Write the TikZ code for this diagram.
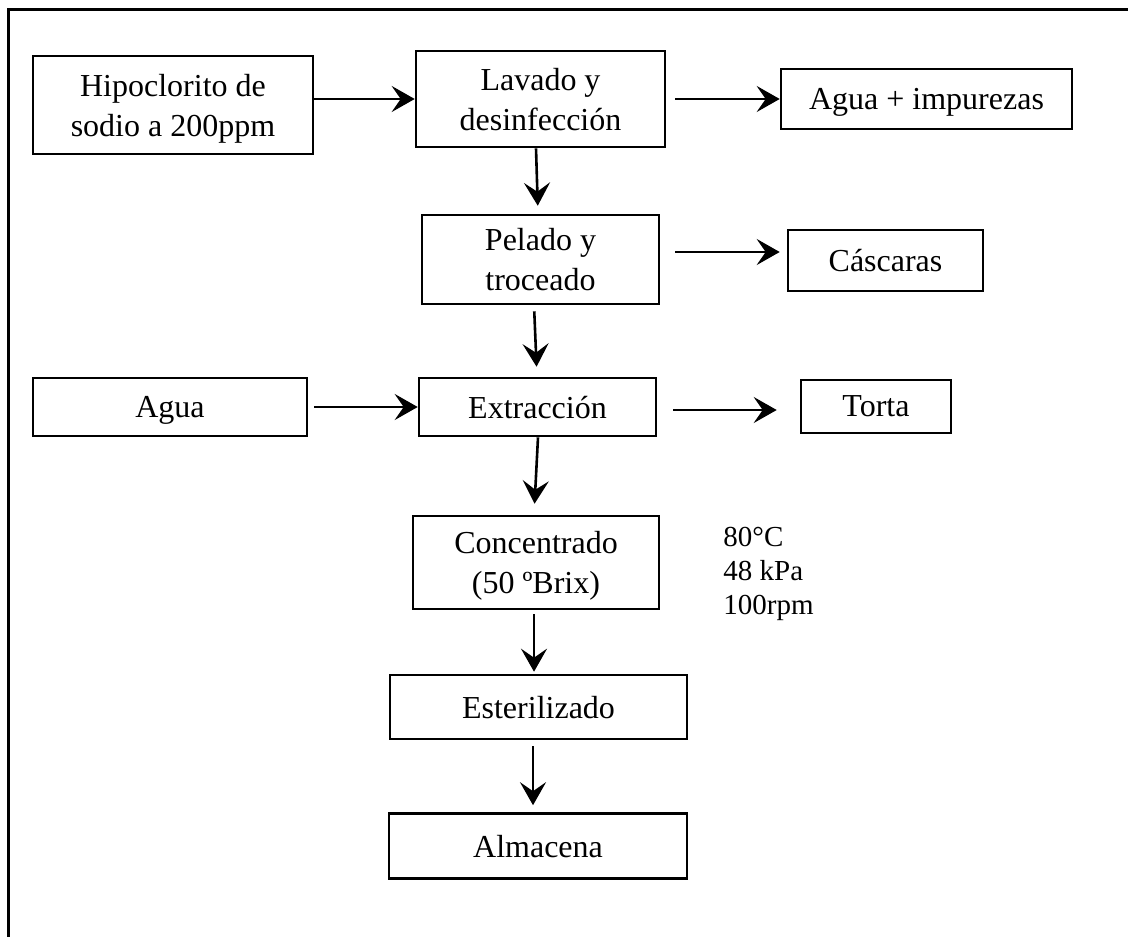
\documentclass[tikz,border=0pt]{standalone}
\usepackage{fontspec}
\setmainfont{Liberation Serif}
\usetikzlibrary{arrows.meta}
\tikzset{
  caja/.style={draw, line width=1.3pt, inner sep=0pt, text depth=0pt, align=center, font=\fontsize{16}{20}\selectfont},
  flecha/.style={line width=1.3pt, -{Stealth[length=11.5pt, width=13pt, inset=4.5pt]}},
}

\begin{document}
\begin{tikzpicture}[x=0.5pt, y=-0.5pt]
        \useasboundingbox (0,0) rectangle (1128,936);
        \clip (0,0) rectangle (1128,936);
        % Outer frame
        \draw[line width=1.5pt] (8,10) rectangle (1160,970);

        % Process boxes
        \node[caja, minimum width=140pt, minimum height=49pt] (hipoclorito) at (173,105) {Hipoclorito de\\sodio a 200ppm};
        \node[caja, minimum width=124.5pt, minimum height=48pt] (lavado) at (540.5,99) {Lavado y\\desinfección};
        \node[caja, minimum width=145.5pt, minimum height=30pt] (impurezas) at (926.5,99) {Agua + impurezas};
        \node[caja, minimum width=118.5pt, minimum height=44.5pt] (pelado) at (540.5,259.5) {Pelado y\\troceado};
        \node[caja, minimum width=97.5pt, minimum height=30.5pt] (cascaras) at (885.5,260.5) {Cáscaras};
        \node[caja, minimum width=137pt, minimum height=29pt] (agua) at (170,407) {Agua};
        \node[caja, minimum width=118.5pt, minimum height=29pt] (extraccion) at (537.5,407) {Extracción};
        \node[caja, minimum width=75pt, minimum height=26.5pt] (torta) at (876,406.5) {Torta};
        \node[caja, minimum width=123pt, minimum height=46.5pt] (concentrado) at (536,562.5) {Concentrado\\(50 ºBrix)};
        \node[caja, minimum width=148.5pt, minimum height=32pt] (esterilizado) at (538.5,707) {Esterilizado};
        \node[caja, minimum width=149pt, minimum height=32.5pt] (almacena) at (538,846) {Almacena};

        % Conditions
        \node[anchor=north west, inner sep=0pt, align=left, font=\fontsize{14.5}{17}\selectfont] (condiciones) at (723,527) {80°C\\48 kPa\\100rpm};

        % Side streams
        \draw[flecha] (hipoclorito.east |- lavado.west) -- (lavado.west);
        \draw[flecha, shorten <=4.5pt] (lavado.east) -- (impurezas.west);
        \draw[flecha, shorten <=7.5pt, shorten >=3.5pt] ([yshift=3.75pt]pelado.east) -- ([yshift=3.75pt]pelado.east -| cascaras.west);
        \draw[flecha, shorten <=3pt] (agua.east) -- (extraccion.west);
        \draw[flecha, shorten <=8pt, shorten >=11.5pt] ([yshift=-1.5pt]extraccion.east) -- ([yshift=-1.5pt]extraccion.east -| torta.west);

        % Main line
        \draw[flecha, shorten >=4pt] ([xshift=-2.25pt]lavado.south) -- ([xshift=-1.25pt]pelado.north);
        \draw[flecha, shorten <=3pt, shorten >=5pt] ([xshift=-3.25pt]pelado.south) -- ([xshift=-0.25pt]extraccion.north);
        \draw[flecha, shorten >=5.5pt] ([xshift=0.25pt]extraccion.south) -- ([xshift=-1pt]concentrado.north);
        \draw[flecha, shorten <=2pt, shorten >=1pt] ([xshift=-1pt]concentrado.south) -- ([xshift=-2.25pt]esterilizado.north);
        \draw[flecha, shorten <=3pt, shorten >=3.5pt] ([xshift=-2.75pt]esterilizado.south) -- ([xshift=-2.5pt]almacena.north);
    \end{tikzpicture}
\end{document}
